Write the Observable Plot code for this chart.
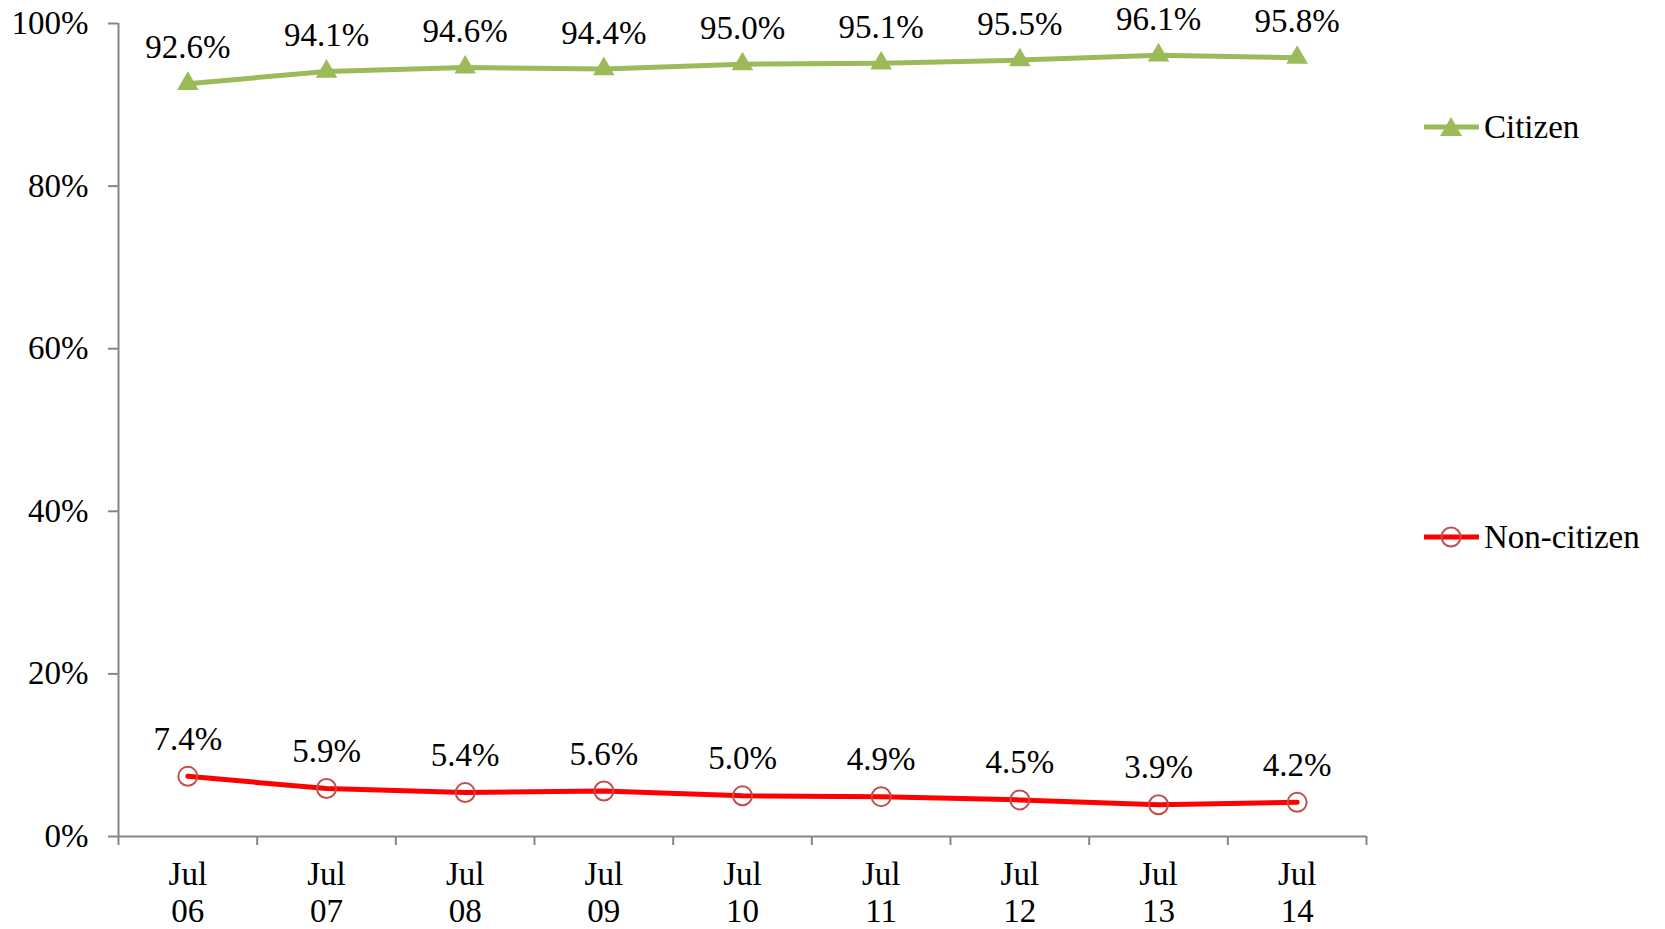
<!DOCTYPE html>
<html>
<head>
<meta charset="utf-8">
<script src="https://cdn.jsdelivr.net/npm/d3@7"></script>
<script src="https://cdn.jsdelivr.net/npm/@observablehq/plot@0.6"></script>
<style>
  html, body { margin: 0; padding: 0; background: #fff; }
  #wrap { position: relative; width: 1665px; height: 929px; font-family: "Liberation Serif", serif; }
  .leg { position: absolute; left: 1424px; display: flex; align-items: center; font-size: 33px; color: #000; }
  .leg svg { margin-right: 5px; }
</style>
</head>
<body>
<div id="wrap"></div>
<script>
const periods = ["Jul\n06", "Jul\n07", "Jul\n08", "Jul\n09", "Jul\n10", "Jul\n11", "Jul\n12", "Jul\n13", "Jul\n14"];
const citizen = [92.6, 94.1, 94.6, 94.4, 95.0, 95.1, 95.5, 96.1, 95.8];
const nonCitizen = [7.4, 5.9, 5.4, 5.6, 5.0, 4.9, 4.5, 3.9, 4.2];
const seriesNames = ["Citizen", "Non-citizen"];
const yTicks = [0, 20, 40, 60, 80, 100];

const idx = periods.map((_, i) => i);
const citData = idx.map(i => ({i, v: citizen[i]}));
const nonData = idx.map(i => ({i, v: nonCitizen[i]}));
const bounds = d3.range(-0.5, periods.length, 1);

const axisColor = "#868686";
const green = "#9BBB59";
const red = "#FF0000";
const circleStroke = "#C0504D";

const chart = Plot.plot({
  width: 1665,
  height: 929,
  marginLeft: 118,
  marginRight: 299,
  marginTop: 23,
  marginBottom: 93,
  style: {fontFamily: "Liberation Serif, serif", fontSize: "33px", color: "#000", background: "#fff"},
  x: {type: "linear", domain: [-0.5, periods.length - 0.5], axis: null},
  y: {domain: [0, 100], axis: null},
  marks: [
    Plot.ruleX([-0.5], {y1: 0, y2: 100, stroke: axisColor, strokeWidth: 2}),
    Plot.ruleY([0], {x1: -0.5, x2: periods.length - 0.5, stroke: axisColor, strokeWidth: 2}),
    Plot.axisY({ticks: yTicks, tickSize: 10, tickPadding: 20, tickFormat: d => d + "%", stroke: axisColor, strokeWidth: 2, fill: "#000", label: null}),
    Plot.axisX({ticks: bounds, tickSize: 9, tickFormat: () => "", stroke: axisColor, strokeWidth: 2, label: null}),
    Plot.text(idx, {x: i => i, y: 0, text: i => periods[i], lineAnchor: "top", dy: 23, lineHeight: 1.1, fill: "#000", textAnchor: "middle"}),
    Plot.line(citData, {x: "i", y: "v", stroke: green, strokeWidth: 5}),
    Plot.dot(citData, {x: "i", y: "v", symbol: "triangle", r: 8, fill: green, stroke: "none"}),
    Plot.text(citData, {x: "i", y: "v", text: d => d.v.toFixed(1) + "%", dy: -36, fill: "#000"}),
    Plot.line(nonData, {x: "i", y: "v", stroke: red, strokeWidth: 5}),
    Plot.dot(nonData, {x: "i", y: "v", r: 9.5, fill: "none", stroke: circleStroke, strokeWidth: 2}),
    Plot.text(nonData, {x: "i", y: "v", text: d => d.v.toFixed(1) + "%", dy: -37, fill: "#000"})
  ]
});

const wrap = document.getElementById("wrap");
wrap.appendChild(chart);

// Legend
const legendItems = [
  {name: seriesNames[0], top: 127, marker: `<line x1="1" y1="12" x2="54" y2="12" stroke="${green}" stroke-width="5" stroke-linecap="round"/><path d="M27,2 L38,21 L16,21 Z" fill="${green}"/>`},
  {name: seriesNames[1], top: 537, marker: `<line x1="1" y1="12" x2="54" y2="12" stroke="${red}" stroke-width="5" stroke-linecap="round"/><circle cx="27" cy="12" r="9.5" fill="none" stroke="${circleStroke}" stroke-width="2"/>`}
];
for (const it of legendItems) {
  const div = document.createElement("div");
  div.className = "leg";
  div.style.top = (it.top - 20) + "px";
  div.style.height = "40px";
  div.innerHTML = `<svg width="55" height="24" viewBox="0 0 55 24">${it.marker}</svg><span>${it.name}</span>`;
  wrap.appendChild(div);
}
</script>
</body>
</html>
